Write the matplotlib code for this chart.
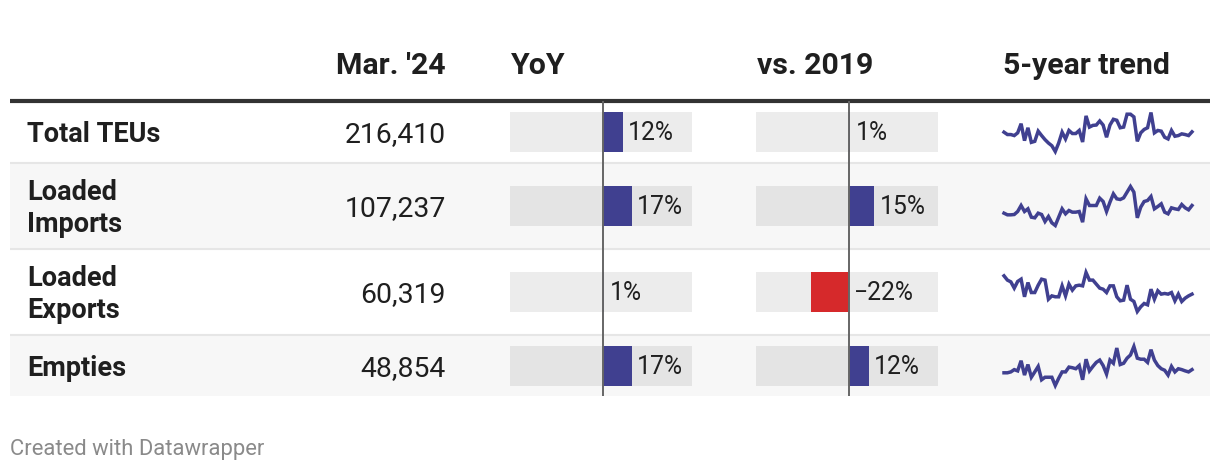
import matplotlib
matplotlib.use("Agg")
import matplotlib.pyplot as plt
from matplotlib.patches import Rectangle

plt.rcParams['font.family'] = ['Roboto', 'DejaVu Sans']

# ---------------- data ----------------
headers = ["Mar. '24", "YoY", "vs. 2019", "5-year trend"]
row_labels = ["Total TEUs", "Loaded\nImports", "Loaded\nExports", "Empties"]
mar24_values = [216410, 107237, 60319, 48854]
yoy_pct = [12, 17, 1, 17]
vs2019_pct = [1, 15, -22, 12]

trend_total = [215, 208, 208, 205, 213, 240, 190, 228, 185, 188, 218, 205, 193, 183, 175, 158,
               183, 215, 195, 220, 211, 211, 220, 186, 263, 230, 235, 236, 248, 236, 200, 236,
               253, 250, 228, 230, 268, 268, 260, 188, 213, 223, 228, 273, 213, 220, 218, 200,
               195, 220, 203, 205, 210, 208, 205, 216]
trend_imports = [95.5, 93, 93, 93.5, 98, 107, 98, 102, 89.5, 88.5, 95.5, 93.5, 83, 90.5, 81, 77,
                 89.5, 102, 94.5, 99.5, 97, 97, 98, 82, 117, 107, 107, 107, 118, 113, 98, 112,
                 124.5, 117, 116, 118.5, 127, 135.5, 127, 88.5, 104.5, 113, 114.5, 120.5, 102, 105.5,
                 109.5, 97, 94.5, 103.5, 102, 101, 108.5, 103.5, 100.5, 107]
trend_exports = [74.0, 70.8, 69.5, 64.8, 69.8, 71.5, 58.3, 69.0, 61.5, 61.5, 67.0, 71.5, 70.8, 56.5,
                 59.0, 58.3, 58.3, 66.5, 59.0, 67.8, 63.3, 66.5, 67.0, 66.5, 76.5, 70.8, 70.8, 67.8,
                 64.8, 64.0, 61.5, 66.5, 66.5, 58.3, 55.3, 55.8, 67.0, 56.5, 54.8, 47.3, 50.8, 53.3,
                 52.3, 64.0, 56.5, 62.8, 60.3, 60.8, 60.3, 61.5, 55.3, 60.3, 54.8, 57.3, 59.0, 60.3]
trend_empties = [46.3, 46.3, 47.0, 48.8, 47.8, 55.8, 44.5, 52.8, 42.8, 47.0, 51.3, 40.8, 42.8, 42.8,
                 42.8, 36.3, 42.0, 47.0, 47.0, 50.8, 50.3, 49.5, 52.0, 40.8, 57.0, 47.8, 51.3, 54.5,
                 56.3, 52.0, 45.3, 56.3, 53.8, 65.8, 52.8, 53.8, 57.8, 60.3, 67.0, 57.8, 57.0, 57.0,
                 54.5, 64.5, 56.3, 52.0, 49.5, 48.3, 44.5, 51.3, 47.0, 49.5, 48.8, 47.8, 47.0, 48.8]
trends = [trend_total, trend_imports, trend_exports, trend_empties]
footer = "Created with Datawrapper"

# ---------------- layout / style ----------------
W, H = 1220, 472
BLUE = '#404090'
RED = '#d6292b'
TXT = '#1f1f1f'
row_bounds = [101, 163, 249, 335, 396]
row_centers = [132, 206, 292, 366]
row_bg = ['#ffffff', '#f7f7f7', '#ffffff', '#f7f7f7']
pct_range = (-54, 52)

fig = plt.figure(figsize=(W / 100, H / 100), dpi=100)
fig.patch.set_facecolor('white')
ax = fig.add_axes([0, 0, 1, 1])
ax.set_xlim(0, W)
ax.set_ylim(H, 0)
ax.axis('off')


def px_axes(x0, y0, x1, y1):
    a = fig.add_axes([x0 / W, 1 - y1 / H, (x1 - x0) / W, (y1 - y0) / H])
    a.set_facecolor('none')
    a.axis('off')
    return a


# row backgrounds and separators
for i in range(4):
    ax.add_patch(Rectangle((10, row_bounds[i]), 1200, row_bounds[i + 1] - row_bounds[i],
                           facecolor=row_bg[i], edgecolor='none', zorder=0))
for yb in row_bounds[1:4]:
    ax.plot([10, 1210], [yb, yb], color='#e6e6e6', lw=1.5, zorder=1, solid_capstyle='butt')
ax.plot([10, 1210], [100.5, 100.5], color='#333333', lw=3, zorder=2, solid_capstyle='butt')

# headers
HFS = 21.8
ax.text(446, 74, headers[0], ha='right', va='baseline', fontsize=HFS, fontweight='bold', color=TXT)
ax.text(511, 74, headers[1], ha='left', va='baseline', fontsize=HFS, fontweight='bold', color=TXT)
ax.text(757, 74, headers[2], ha='left', va='baseline', fontsize=HFS, fontweight='bold', color=TXT)
ax.text(1003, 74, headers[3], ha='left', va='baseline', fontsize=HFS, fontweight='bold', color=TXT)

# row labels and values
for i, (lab, val) in enumerate(zip(row_labels, mar24_values)):
    c = row_centers[i]
    lines = lab.split('\n')
    if len(lines) == 1:
        ax.text(27, c + 10, lines[0], ha='left', va='baseline', fontsize=19.5,
                fontweight='bold', color=TXT)
    else:
        ax.text(27, c - 6.5, lines[0], ha='left', va='baseline', fontsize=19.5,
                fontweight='bold', color=TXT)
        ax.text(27, c + 25.5, lines[1], ha='left', va='baseline', fontsize=19.5,
                fontweight='bold', color=TXT)
    ax.text(446, c + 10, f"{val:,}", ha='right', va='baseline', fontsize=20.4, color=TXT)


# bar columns
def bar_column(x0, x1, values):
    a = px_axes(x0, row_bounds[0], x1, row_bounds[-1])
    a.set_xlim(*pct_range)
    a.set_ylim(row_bounds[-1], row_bounds[0])
    span = pct_range[1] - pct_range[0]
    a.barh(row_centers, [span] * 4, left=pct_range[0], height=40, color='black',
           alpha=0.075, linewidth=0)
    colors = [BLUE if v >= 0 else RED for v in values]
    a.barh(row_centers, values, left=0, height=40, color=colors, linewidth=0)
    a.axvline(0, color='#666666', lw=1.4)
    for v, c in zip(values, row_centers):
        s = f"{v}%".replace('-', '\u2212')
        a.annotate(s, xy=(max(v, 0), c + 8.5), xytext=(5, 0), textcoords='offset pixels',
                   ha='left', va='baseline', fontsize=17.8, color=TXT)
    return a


bar_column(510, 692, yoy_pct)
bar_column(756, 938, vs2019_pct)

# sparklines
for i, series in enumerate(trends):
    c = row_centers[i]
    a = px_axes(1004, c - 19.5, 1192, c + 19.5)
    a.plot(range(len(series)), series, color=BLUE, lw=2.5, solid_joinstyle='miter',
           clip_on=False)
    a.set_xlim(0, len(series) - 1)
    a.set_ylim(min(series), max(series))

ax.text(10, 455, footer, ha='left', va='baseline', fontsize=15.8, color='#8a8a8a')

fig.savefig('out.png', dpi=100, facecolor='white')
